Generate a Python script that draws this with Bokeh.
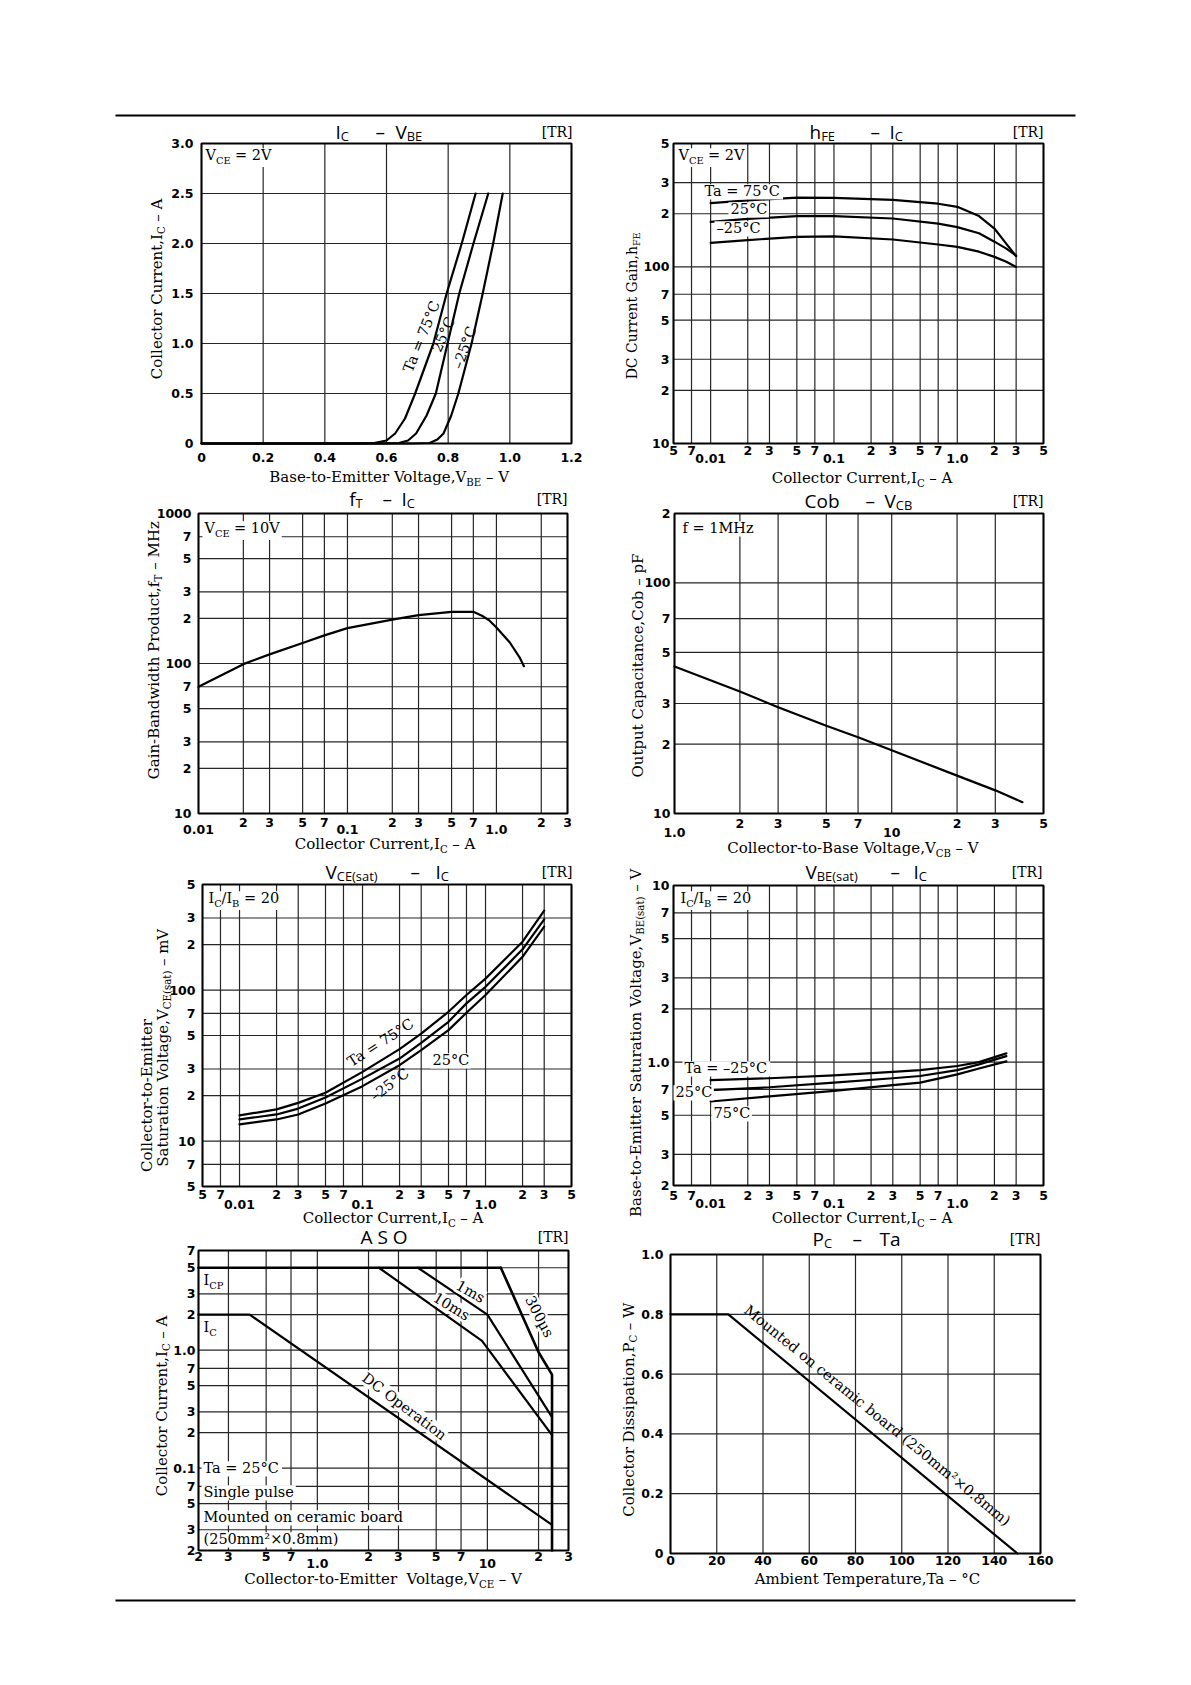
import math
from bokeh.plotting import figure
from bokeh.models import Label, LabelSet, ColumnDataSource, BoxAnnotation, Range1d, LogScale, LinearScale
from bokeh.core.properties import value
from bokeh.embed import file_html
from bokeh.resources import INLINE

# ---------------- data ----------------
# IC - VBE  (VCE = 2V)
vbe_75 = [0.0, 0.50, 0.56, 0.60, 0.628, 0.66, 0.693, 0.752, 0.795, 0.844, 0.889]
ic_75 = [0.0, 0.0, 0.005, 0.03, 0.10, 0.25, 0.50, 1.00, 1.50, 2.00, 2.50]
vbe_25 = [0.0, 0.58, 0.64, 0.67, 0.696, 0.73, 0.76, 0.798, 0.836, 0.882, 0.930]
ic_25 = [0.0, 0.0, 0.005, 0.03, 0.10, 0.28, 0.50, 1.00, 1.50, 2.00, 2.50]
vbe_m25 = [0.0, 0.68, 0.74, 0.765, 0.785, 0.81, 0.833, 0.876, 0.912, 0.946, 0.977]
ic_m25 = [0.0, 0.0, 0.005, 0.04, 0.10, 0.28, 0.50, 1.00, 1.50, 2.00, 2.50]

# hFE - IC  (VCE = 2V)
hfe_ic = [0.01, 0.02, 0.05, 0.1, 0.3, 0.7, 1.0, 1.5, 2.0, 2.5, 3.0]
hfe_75 = [230, 238, 247, 246, 240, 228, 219, 194, 165, 135, 115]
hfe_25 = [180, 187, 194, 194, 188, 176, 168, 155, 139, 127, 116]
hfe_m25 = [137, 142, 148, 149, 143, 134, 130, 122, 114, 107, 100]

# fT - IC  (VCE = 10V)
ft_ic = [0.01, 0.02, 0.03, 0.05, 0.07, 0.1, 0.2, 0.3, 0.5, 0.7, 0.8, 0.9, 1.0, 1.23, 1.43, 1.53]
ft_mhz = [70, 99, 115, 137, 154, 172, 196, 210, 221, 221, 208, 193, 174, 138, 110, 96]

# Cob - VCB  (f = 1MHz)
cob_vcb = [1, 2, 3, 5, 7, 10, 20, 30, 40]
cob_pf = [43.4, 33.8, 28.9, 24.0, 21.4, 18.8, 14.6, 12.6, 11.2]

# VCE(sat) - IC  (IC/IB = 20), mV
vce_ic = [0.01, 0.02, 0.03, 0.05, 0.1, 0.2, 0.3, 0.5, 0.7, 1.0, 2.0, 3.0]
vce_75 = [14.8, 16.2, 17.9, 20.9, 28.7, 40.6, 51.5, 71.8, 92.7, 119, 209, 336]
vce_25 = [13.9, 15.0, 16.4, 19.4, 25.9, 35.2, 44.7, 61.6, 81.6, 105, 186, 294]
vce_m25 = [12.9, 13.9, 15.0, 17.7, 23.1, 31.8, 40.0, 54.3, 70.7, 92.7, 166, 263]

# VBE(sat) - IC  (IC/IB = 20), V
vbes_ic = [0.01, 0.03, 0.1, 0.3, 0.5, 1.0, 1.5, 2.5]
vbes_m25 = [0.79, 0.81, 0.84, 0.88, 0.90, 0.95, 1.00, 1.12]
vbes_25 = [0.693, 0.72, 0.765, 0.81, 0.834, 0.90, 0.97, 1.08]
vbes_75 = [0.598, 0.64, 0.687, 0.74, 0.765, 0.852, 0.92, 1.01]

# ASO
aso_icp_v = [0.2, 12]
aso_icp_i = [5, 5]
aso_dc_v = [0.2, 0.4, 24]
aso_dc_i = [2, 2, 0.033]
aso_10ms_v = [2.3, 9.3, 24]
aso_10ms_i = [5, 1.2, 0.19]
aso_1ms_v = [3.9, 10, 24]
aso_1ms_i = [5, 2.0, 0.27]
aso_300us_v = [12, 20, 24, 24]
aso_300us_i = [5, 0.96, 0.62, 0.02]

# PC - Ta
pc_ta = [0, 25, 150]
pc_w = [0.8, 0.8, 0.0]

# tick values / labels
lin_vbe_ticks = [0, 0.2, 0.4, 0.6, 0.8, 1.0, 1.2]
lin_vbe_labels = ["0", "0.2", "0.4", "0.6", "0.8", "1.0", "1.2"]
lin_ic_ticks = [0, 0.5, 1.0, 1.5, 2.0, 2.5, 3.0]
lin_ic_labels = ["0", "0.5", "1.0", "1.5", "2.0", "2.5", "3.0"]
ic5_ticks = [0.005, 0.007, 0.01, 0.02, 0.03, 0.05, 0.07, 0.1, 0.2, 0.3, 0.5, 0.7, 1.0, 2, 3, 5]
ic5_labels = ["5", "7", "", "2", "3", "5", "7", "", "2", "3", "5", "7", "", "2", "3", "5"]
ic5_dec = [0.01, 0.1, 1.0]
ic5_dec_labels = ["0.01", "0.1", "1.0"]
hfe_ticks = [10, 20, 30, 50, 70, 100, 200, 300, 500]
hfe_labels = ["10", "2", "3", "5", "7", "100", "2", "3", "5"]
ft_x_ticks = [0.01, 0.02, 0.03, 0.05, 0.07, 0.1, 0.2, 0.3, 0.5, 0.7, 1.0, 2, 3]
ft_x_labels = ["", "2", "3", "5", "7", "", "2", "3", "5", "7", "", "2", "3"]
ft_y_ticks = [10, 20, 30, 50, 70, 100, 200, 300, 500, 700, 1000]
ft_y_labels = ["10", "2", "3", "5", "7", "100", "2", "3", "5", "7", "1000"]
cob_x_ticks = [1, 2, 3, 5, 7, 10, 20, 30, 50]
cob_x_labels = ["", "2", "3", "5", "7", "", "2", "3", "5"]
cob_x_dec = [1.0, 10]
cob_x_dec_labels = ["1.0", "10"]
cob_y_ticks = [10, 20, 30, 50, 70, 100, 200]
cob_y_labels = ["10", "2", "3", "5", "7", "100", "2"]
vce_y_ticks = [5, 7, 10, 20, 30, 50, 70, 100, 200, 300, 500]
vce_y_labels = ["5", "7", "10", "2", "3", "5", "7", "100", "2", "3", "5"]
vbes_y_ticks = [0.2, 0.3, 0.5, 0.7, 1.0, 2, 3, 5, 7, 10]
vbes_y_labels = ["2", "3", "5", "7", "1.0", "2", "3", "5", "7", "10"]
aso_x_ticks = [0.2, 0.3, 0.5, 0.7, 1.0, 2, 3, 5, 7, 10, 20, 30]
aso_x_labels = ["2", "3", "5", "7", "", "2", "3", "5", "7", "", "2", "3"]
aso_x_dec = [1.0, 10]
aso_x_dec_labels = ["1.0", "10"]
aso_y_ticks = [0.02, 0.03, 0.05, 0.07, 0.1, 0.2, 0.3, 0.5, 0.7, 1.0, 2, 3, 5, 7]
aso_y_labels = ["2", "3", "5", "7", "0.1", "2", "3", "5", "7", "1.0", "2", "3", "5", "7"]
ta_ticks = [0, 20, 40, 60, 80, 100, 120, 140, 160]
ta_labels = ["0", "20", "40", "60", "80", "100", "120", "140", "160"]
pc_ticks = [0, 0.2, 0.4, 0.6, 0.8, 1.0]
pc_labels = ["0", "0.2", "0.4", "0.6", "0.8", "1.0"]

# ---------------- styling helpers ----------------
SERIF = "DejaVu Serif"
TSANS = "Open Sans"
NSANS = "DejaVu Sans"
BASE_FIX = 0.36  # renderer puts alphabetic baselines ~0.36em low; compensate
GRID = "#262626"

WS = {' ': .318, ',': .318, '.': .318, '-': .338, '–': .5, '=': .838, '(': .39, ')': .39, '/': .337,
      '°': .5, '×': .838, '²': .401, 'µ': .65, '[': .39, ']': .39, '\u00a0': .318,
      'A': .722, 'B': .735, 'C': .734, 'D': .802, 'E': .729, 'F': .693, 'G': .799, 'H': .872, 'I': .395,
      'M': .995, 'O': .820, 'P': .685, 'R': .770, 'S': .685, 'T': .701, 'V': .722, 'W': 1.028, 'z': .527,
      'a': .596, 'b': .640, 'c': .560, 'd': .640, 'e': .592, 'f': .370, 'g': .640, 'h': .644, 'i': .320,
      'k': .606, 'l': .320, 'm': .948, 'n': .644, 'o': .602, 'p': .640, 'r': .478, 's': .513, 't': .402,
      'u': .644, 'v': .565, 'w': .856, 'x': .564, 'y': .565}
WO = {' ': .26, '–': .5, '-': .322, '(': .296, ')': .296, 'A': .633, 'B': .648, 'C': .631, 'E': .556,
      'F': .517, 'I': .279, 'O': .779, 'P': .603, 'S': .549, 'T': .553, 'V': .593, 'a': .556, 'b': .613,
      'h': .613, 'o': .602, 's': .479, 't': .361}


def tw(s, size, font):
    tab = WS if font == SERIF else WO
    return sum(tab.get(c, 0.636) for c in s) * size


# one page-sized canvas; each chart gets its own named scales mapped onto its plot rectangle
PW, PH = 1100, 1620
page = figure(width=PW, height=PH, min_border=0, min_border_left=0, min_border_right=0,
              min_border_top=0, min_border_bottom=0, x_axis_location=None, y_axis_location=None,
              x_range=Range1d(0, PW), y_range=Range1d(0, PH),
              output_backend="svg", toolbar_location=None)
page.title.visible = False
page.grid.visible = False
page.outline_line_color = None
page.background_fill_color = "white"
page.border_fill_color = "white"


def _ext(a, b, lo, hi, total, log):
    f = math.log10 if log else (lambda v: v)
    ua, ub = f(a), f(b)
    s = (ub - ua) / (hi - lo)
    s0 = ua - lo * s
    s1 = ub + (total - hi) * s
    return (10 ** s0, 10 ** s1) if log else (s0, s1)


def tick_set(xs, ys, texts, **kw):
    return LabelSet(x="x", y="y", text="t", source=ColumnDataSource(dict(x=xs, y=ys, t=texts)),
                    text_font=value(NSANS), text_font_size=value("12.5px"), text_font_style="bold",
                    text_color="black", level="overlay", **kw)


def panel(name, rect, xr, yr, xlog, ylog, xt, xl, yt, yl, xo=8, yo=4, dec=None, dec_lab=None, dec_o=16):
    IL, IT, IR, IB = rect
    xn, yn = "x" + name, "y" + name
    page.extra_x_ranges[xn] = Range1d(*_ext(xr[0], xr[1], IL, IR, PW, xlog))
    page.extra_y_ranges[yn] = Range1d(*_ext(yr[0], yr[1], PH - IB, PH - IT, PH, ylog))
    page.extra_x_scales[xn] = LogScale() if xlog else LinearScale()
    page.extra_y_scales[yn] = LogScale() if ylog else LinearScale()
    kw = dict(x_range_name=xn, y_range_name=yn)
    page.segment(x0=xt, y0=[yr[0]] * len(xt), x1=xt, y1=[yr[1]] * len(xt),
                 line_color=GRID, line_width=1.2, level="underlay", **kw)
    page.segment(x0=[xr[0]] * len(yt), y0=yt, x1=[xr[1]] * len(yt), y1=yt,
                 line_color=GRID, line_width=1.2, level="underlay", **kw)
    page.quad(left=[xr[0]], right=[xr[1]], bottom=[yr[0]], top=[yr[1]], fill_color=None,
              line_color="black", line_width=2, **kw)
    page.add_layout(tick_set(xt, [PH - IB - xo] * len(xt), xl, y_units="screen",
                             text_align="center", text_baseline="middle", **kw))
    page.add_layout(tick_set([IL - yo] * len(yt), yt, yl, x_units="screen",
                             text_align="right", text_baseline="middle", **kw))
    if dec is not None:
        page.add_layout(tick_set(dec, [PH - IB - dec_o] * len(dec), dec_lab, y_units="screen",
                                 text_align="center", text_baseline="middle", **kw))
    return kw


def curve(kw, x, y, w=2.2):
    page.line(x, y, line_color="black", line_width=w, line_join="round", line_cap="round", **kw)


def hrule(x0, x1, y):
    page.add_layout(BoxAnnotation(left=x0, right=x1, top=PH - y + 1, bottom=PH - y - 1,
                                  left_units="screen", right_units="screen",
                                  top_units="screen", bottom_units="screen",
                                  fill_color="black", fill_alpha=1.0, line_color=None, level="annotation"))


def rich(px, py, parts, size=15, font=SERIF, angle=0.0, anchor="left", bg=False,
         sub_ratio=0.68, sub_shift=None, vcenter=False):
    sub_sz = round(size * sub_ratio, 1)
    if sub_shift is None:
        sub_shift = 0.24 * size
    a = math.radians(angle)
    dx, dy = math.cos(a), -math.sin(a)
    nx, ny = math.sin(a), math.cos(a)
    if vcenter:
        px += nx * 0.36 * size
        py += ny * 0.36 * size
    norm = [(t, bool(s)) for t, s in parts]
    sizes = [sub_sz if s else size for t, s in norm]
    widths = [tw(t, sz, font) for (t, _), sz in zip(norm, sizes)]
    W = sum(widths)
    s0 = {"left": 0.0, "center": -W / 2.0, "right": -W}[anchor]
    if bg and angle == 0:
        x0 = px + s0 - 2
        x1 = px + s0 + W + 2
        y0 = py - 0.78 * size - 1
        y1 = py + 0.2 * size + (sub_shift if any(s for _, s in norm) else 0)
        # white patch behind the text (page pixels == default ranges of the page canvas)
        page.quad(left=[x0], right=[x1], top=[PH - y0], bottom=[PH - y1], fill_color="white",
                  line_color=None, level="guide")
    items = []
    if len(norm) == 1:
        items.append((norm[0][0].strip(), sizes[0], norm[0][1], 0.0, anchor))
    else:
        t0 = norm[0][0]
        trail = len(t0) - len(t0.rstrip(" "))
        along = s0 + widths[0] - tw(" " * trail, sizes[0], font)
        items.append((t0.rstrip(" "), sizes[0], norm[0][1], along, "right"))
        along = s0 + widths[0]
        for i in range(1, len(norm)):
            t = norm[i][0]
            lead = len(t) - len(t.lstrip(" "))
            items.append((t.lstrip(" "), sizes[i], norm[i][1], along + tw(" " * lead, sizes[i], font), "left"))
            along += widths[i]
    for t, sz, sub, al, align in items:
        sh = (sub_shift if sub else 0.0) - BASE_FIX * sz
        X = px + dx * al + nx * sh
        Y = py + dy * al + ny * sh
        lab = Label(x=X, y=PH - Y, x_units="screen", y_units="screen", text=t, angle=a,
                    text_align=align, text_baseline="alphabetic", text_font=font,
                    text_font_size=f"{sz}px", text_color="black", level="overlay")
        if bg and angle != 0:
            lab.background_fill_color = "white"
        page.add_layout(lab)


def title(segs, base, tr_right):
    for lx, parts in segs:
        rich(lx, base, parts, size=19, font=TSANS, sub_ratio=0.68, sub_shift=2)
    rich(tr_right, base - 1, [("[TR]", 0)], size=14, anchor="right")


# page rules
hrule(115, 1075, 115)
hrule(115, 1075, 1600)

# ---------------- panel 1: IC - VBE ----------------
K1 = panel("1", (201, 143, 571, 443), (0, 1.2), (0, 3.0), False, False, lin_vbe_ticks, lin_vbe_labels,
           lin_ic_ticks, lin_ic_labels, xo=14, yo=8)
curve(K1, vbe_75, ic_75)
curve(K1, vbe_25, ic_25)
curve(K1, vbe_m25, ic_m25)
title([(335, [("I", 0), ("C", 1)]), (375, [("–", 0)]), (395, [("V", 0), ("BE", 1)])], 138, 572)
rich(205, 160, [("V", 0), ("CE", 1), (" = 2V", 0)], size=14.5, bg=True)
rich(421, 336, [("Ta = 75°C", 0)], size=14.5, angle=68, anchor="center", vcenter=True)
rich(443, 334, [("25°C", 0)], size=14.5, angle=66, anchor="center", vcenter=True)
rich(464, 347, [("–25°C", 0)], size=14.5, angle=70, anchor="center", vcenter=True)
rich(388, 482, [("Base-to-Emitter Voltage,V", 0), ("BE", 1), (" – V", 0)], anchor="center")
rich(156, 288, [("Collector Current,I", 0), ("C", 1), (" – A", 0)], angle=90, anchor="center", vcenter=True)

# ---------------- panel 2: hFE - IC ----------------
K2 = panel("2", (673, 143, 1043, 443), (0.005, 5), (10, 500), True, True, ic5_ticks, ic5_labels,
           hfe_ticks, hfe_labels, xo=7, yo=4, dec=ic5_dec, dec_lab=ic5_dec_labels, dec_o=15)
curve(K2, hfe_ic, hfe_75)
curve(K2, hfe_ic, hfe_25)
curve(K2, hfe_ic, hfe_m25)
title([(809, [("h", 0), ("FE", 1)]), (870, [("–", 0)]), (889, [("I", 0), ("C", 1)])], 138, 1043)
rich(678, 160, [("V", 0), ("CE", 1), (" = 2V", 0)], size=14.5, bg=True)
rich(704, 196, [("Ta = 75°C", 0)], size=14.5, bg=True)
rich(730, 214, [("25°C", 0)], size=14.5, bg=True)
rich(716, 233, [("–25°C", 0)], size=14.5, bg=True)
rich(862, 483, [("Collector Current,I", 0), ("C", 1), (" – A", 0)], anchor="center")
rich(631, 305, [("DC Current Gain,h", 0), ("FE", 1)], size=14, angle=90, anchor="center", vcenter=True)

# ---------------- panel 3: fT - IC ----------------
K3 = panel("3", (198, 513, 567, 813), (0.01, 3), (10, 1000), True, True, ft_x_ticks, ft_x_labels,
           ft_y_ticks, ft_y_labels, xo=9, yo=7, dec=ic5_dec, dec_lab=ic5_dec_labels, dec_o=16)
curve(K3, ft_ic, ft_mhz)
title([(343, [("f", 0), ("T", 1)]), (382, [("–", 0)]), (401, [("I", 0), ("C", 1)])], 505, 567)
rich(204, 533, [("V", 0), ("CE", 1), (" = 10V", 0)], size=14.5, bg=True)
rich(385, 849, [("Collector Current,I", 0), ("C", 1), (" – A", 0)], anchor="center")
rich(153, 650, [("Gain-Bandwidth Product,f", 0), ("T", 1), (" – MHz", 0)], angle=90, anchor="center", vcenter=True)

# ---------------- panel 4: Cob - VCB ----------------
K4 = panel("4", (674, 513, 1043, 813), (1, 50), (10, 200), True, True, cob_x_ticks, cob_x_labels,
           cob_y_ticks, cob_y_labels, xo=10, yo=4, dec=cob_x_dec, dec_lab=cob_x_dec_labels, dec_o=19)
curve(K4, cob_vcb, cob_pf)
title([(804, [("Cob", 0)]), (865, [("–", 0)]), (884, [("V", 0), ("CB", 1)])], 507, 1043)
rich(682, 533, [("f = 1MHz", 0)], size=14.5, bg=True)
rich(852, 853, [("Collector-to-Base Voltage,V", 0), ("CB", 1), (" – V", 0)], anchor="center")
rich(637, 665, [("Output Capacitance,Cob – pF", 0)], angle=90, anchor="center", vcenter=True)

# ---------------- panel 5: VCE(sat) - IC ----------------
K5 = panel("5", (202, 884, 571, 1186), (0.005, 5), (5, 500), True, True, ic5_ticks, ic5_labels,
           vce_y_ticks, vce_y_labels, xo=8, yo=7, dec=ic5_dec, dec_lab=ic5_dec_labels, dec_o=18)
curve(K5, vce_ic, vce_75)
curve(K5, vce_ic, vce_25)
curve(K5, vce_ic, vce_m25)
title([(325, [("V", 0), ("CE(sat)", 1)]), (410, [("–", 0)]), (435, [("I", 0), ("C", 1)])], 878, 572)
rich(208, 903, [("I", 0), ("C", 1), ("/I", 0), ("B", 1), (" = 20", 0)], size=14.5, bg=True)
rich(380, 1042, [("Ta = 75°C", 0)], size=14.5, angle=33, anchor="center", vcenter=True)
rich(389, 1084, [("–25°C", 0)], size=14.5, angle=37, anchor="center", vcenter=True)
rich(432, 1065, [("25°C", 0)], size=14.5, bg=True)
rich(393, 1223, [("Collector Current,I", 0), ("C", 1), (" – A", 0)], anchor="center")
rich(146, 1095, [("Collector-to-Emitter", 0)], angle=90, anchor="center", vcenter=True)
rich(162, 1048, [("Saturation Voltage,V", 0), ("CE(sat)", 1), (" – mV", 0)], angle=90, anchor="center", vcenter=True)

# ---------------- panel 6: VBE(sat) - IC ----------------
K6 = panel("6", (673, 885, 1043, 1185), (0.005, 5), (0.2, 10), True, True, ic5_ticks, ic5_labels,
           vbes_y_ticks, vbes_y_labels, xo=10, yo=4, dec=ic5_dec, dec_lab=ic5_dec_labels, dec_o=18)
curve(K6, vbes_ic, vbes_m25)
curve(K6, vbes_ic, vbes_25)
curve(K6, vbes_ic, vbes_75)
title([(805, [("V", 0), ("BE(sat)", 1)]), (890, [("–", 0)]), (913, [("I", 0), ("C", 1)])], 878, 1042)
rich(680, 903, [("I", 0), ("C", 1), ("/I", 0), ("B", 1), (" = 20", 0)], size=14.5, bg=True)
rich(684, 1073, [("Ta = –25°C", 0)], size=14.5, bg=True)
rich(675, 1097, [("25°C", 0)], size=14.5, bg=True)
rich(713, 1118, [("75°C", 0)], size=14.5, bg=True)
rich(862, 1223, [("Collector Current,I", 0), ("C", 1), (" – A", 0)], anchor="center")
rich(635, 1043, [("Base-to-Emitter Saturation Voltage,V", 0), ("BE(sat)", 1), (" – V", 0)],
     angle=90, anchor="center", vcenter=True)

# ---------------- panel 7: ASO ----------------
K7 = panel("7", (198, 1250, 568, 1550), (0.2, 30), (0.02, 7), True, True, aso_x_ticks, aso_x_labels,
           aso_y_ticks, aso_y_labels, xo=6, yo=3, dec=aso_x_dec, dec_lab=aso_x_dec_labels, dec_o=13)
curve(K7, aso_icp_v, aso_icp_i, 2.6)
curve(K7, aso_dc_v, aso_dc_i)
curve(K7, aso_10ms_v, aso_10ms_i)
curve(K7, aso_1ms_v, aso_1ms_i)
curve(K7, aso_300us_v, aso_300us_i, 2.6)
title([(360, [("A S O", 0)])], 1243, 568)
rich(203, 1285, [("I", 0), ("CP", 1)], size=14.5, bg=True)
rich(203, 1332, [("I", 0), ("C", 1)], size=14.5, bg=True)
rich(404, 1406, [("DC Operation", 0)], size=14.5, angle=-37, anchor="center", vcenter=True, bg=True)
rich(451, 1306, [("10ms", 0)], size=14.5, angle=-31, anchor="center", vcenter=True, bg=True)
rich(470, 1291, [("1ms", 0)], size=14.5, angle=-29, anchor="center", vcenter=True, bg=True)
rich(539, 1316, [("300µs", 0)], size=14.5, angle=-62, anchor="center", vcenter=True, bg=True)
rich(203, 1473, [("Ta = 25°C", 0)], size=14.5, bg=True)
rich(203, 1497, [("Single pulse", 0)], size=14.5, bg=True)
rich(203, 1522, [("Mounted on ceramic board", 0)], size=14.5, bg=True)
rich(203, 1544, [("(250mm²×0.8mm)", 0)], size=14.5, bg=True)
rich(382, 1584, [("Collector-to-Emitter\u00a0 Voltage,V", 0), ("CE", 1), (" – V", 0)], anchor="center")
rich(161, 1405, [("Collector Current,I", 0), ("C", 1), (" – A", 0)], angle=90, anchor="center", vcenter=True)

# ---------------- panel 8: PC - Ta ----------------
K8 = panel("8", (670, 1254, 1040, 1553), (0, 160), (0, 1.0), False, False, ta_ticks, ta_labels,
           pc_ticks, pc_labels, xo=7, yo=7)
curve(K8, pc_ta, pc_w)
title([(812, [("P", 0), ("C", 1)]), (852, [("–", 0)]), (879, [("Ta", 0)])], 1245, 1040)
rich(877, 1415, [("Mounted on ceramic board (250mm²×0.8mm)", 0)], size=14.5, angle=-39.3,
     anchor="center", vcenter=True)
rich(867, 1584, [("Ambient Temperature,Ta – °C", 0)], anchor="center")
rich(628, 1409, [("Collector Dissipation,P", 0), ("C", 1), (" – W", 0)], angle=90, anchor="center", vcenter=True)

open("out.html", "w").write(file_html(page, INLINE))
